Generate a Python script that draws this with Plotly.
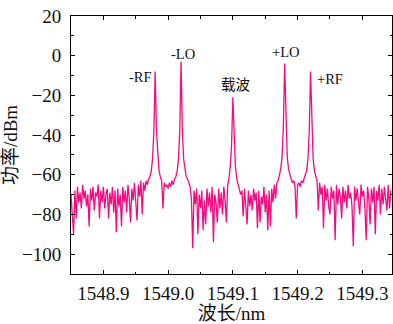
import numpy as np
import plotly.graph_objects as go

# wavelength grid (nm): start and sampling step of the spectrum
wl_start = 1548.85
wl_step = 0.002

# measured optical power (dBm), one value per wavelength sample
power_dbm = [
    -70, -78, -90, -68, -82, -66, -74, -69, -77, -65,
    -72, -68, -76, -70, -86, -67, -73, -66, -78, -69,
    -71, -65, -82, -68, -74, -66, -77, -70, -67, -82,
    -69, -75, -66, -79, -68, -89, -67, -76, -70, -86,
    -66, -74, -68, -79, -65, -72, -84, -67, -73, -64,
    -77, -83, -65, -71, -63, -80, -64, -68, -63, -65,
    -62, -61, -58, -52, -38, -8, -38, -52, -58, -61,
    -63, -77, -64, -66, -65, -67, -64, -66, -63, -65,
    -62, -61, -58, -52, -38, -3, -38, -52, -58, -61,
    -62, -64, -66, -72, -97, -68, -75, -67, -90, -70,
    -77, -68, -88, -73, -85, -67, -76, -69, -79, -66,
    -94, -70, -74, -84, -67, -77, -69, -80, -66, -73,
    -84, -65, -62, -56, -45, -21, -45, -56, -62, -65,
    -67, -70, -68, -81, -67, -74, -85, -68, -76, -70,
    -78, -67, -73, -69, -87, -68, -84, -71, -75, -66,
    -79, -70, -88, -68, -86, -67, -74, -65, -72, -64,
    -63, -60, -57, -51, -36, -4, -36, -51, -57, -60,
    -62, -64, -63, -66, -82, -65, -64, -66, -63, -64,
    -62, -60, -58, -52, -38, -8, -38, -52, -58, -61,
    -63, -78, -64, -70, -66, -87, -65, -73, -67, -76,
    -80, -66, -72, -68, -93, -65, -75, -67, -71, -82,
    -66, -74, -68, -77, -65, -72, -69, -76, -96, -66,
    -73, -67, -75, -80, -65, -71, -68, -77, -93, -66,
    -72, -85, -67, -74, -66, -90, -68, -73, -65, -80,
    -67, -75, -66, -72, -78, -65, -77, -68,
]

peak_labels = ["-RF", "-LO", "载波", "+LO", "+RF"]
x_ticks = [1548.9, 1549.0, 1549.1, 1549.2, 1549.3]
x_tick_text = ["1548.9", "1549.0", "1549.1", "1549.2", "1549.3"]
y_ticks = [20, 0, -20, -40, -60, -80, -100]
y_tick_text = ["20", "0", "\u221220", "\u221240", "\u221260", "\u221280", "\u2212100"]

wavelength = wl_start + wl_step * np.arange(len(power_dbm))

SERIF = "'Liberation Serif', 'Times New Roman', 'Noto Sans CJK SC', serif"

fig = go.Figure()
fig.add_trace(go.Scatter(
    x=wavelength, y=power_dbm, mode="lines",
    line=dict(color="#F50A82", width=1.3),
    hoverinfo="skip", showlegend=False,
))

label_pos = [(1548.9566, -10.7), (1549.023, 0.9), (1549.105, -14.8),
             (1549.182, 1.9), (1549.250, -11.7)]
for txt, (ax_, ay_) in zip(peak_labels, label_pos):
    fig.add_annotation(x=ax_, y=ay_, text=txt, showarrow=False,
                       font=dict(family=SERIF, size=14.5, color="#111"),
                       xanchor="center", yanchor="middle")

font_main = dict(family=SERIF, size=19, color="#111")

axis_common = dict(
    showline=True, linecolor="black", linewidth=1, mirror="allticks",
    ticks="inside", ticklen=4, tickwidth=1, tickcolor="black",
    showgrid=False, zeroline=False, tickfont=font_main,
)

fig.update_xaxes(
    range=[1548.85, 1549.3458], tickvals=x_ticks, ticktext=x_tick_text,
    minor=dict(ticks="inside", ticklen=2.5, dtick=0.05, tick0=1548.85,
               tickcolor="black", showgrid=False),
    title=dict(text="波长/nm", font=font_main, standoff=1),
    ticklabelstandoff=2,
    **axis_common,
)
fig.update_yaxes(
    range=[-110, 20], tickvals=y_ticks, ticktext=y_tick_text,
    minor=dict(ticks="inside", ticklen=2.5, dtick=10, tick0=0,
               tickcolor="black", showgrid=False),
    title=dict(text="功率/dBm", font=font_main, standoff=4),
    ticklabelstandoff=5,
    **axis_common,
)

fig.update_layout(
    width=393, height=324,
    margin=dict(l=71, r=1, t=16, b=50),
    paper_bgcolor="white", plot_bgcolor="white",
    font=font_main,
)

fig.write_html("out.html", config={"displayModeBar": False},
               post_script="document.body.style.margin='0';")
